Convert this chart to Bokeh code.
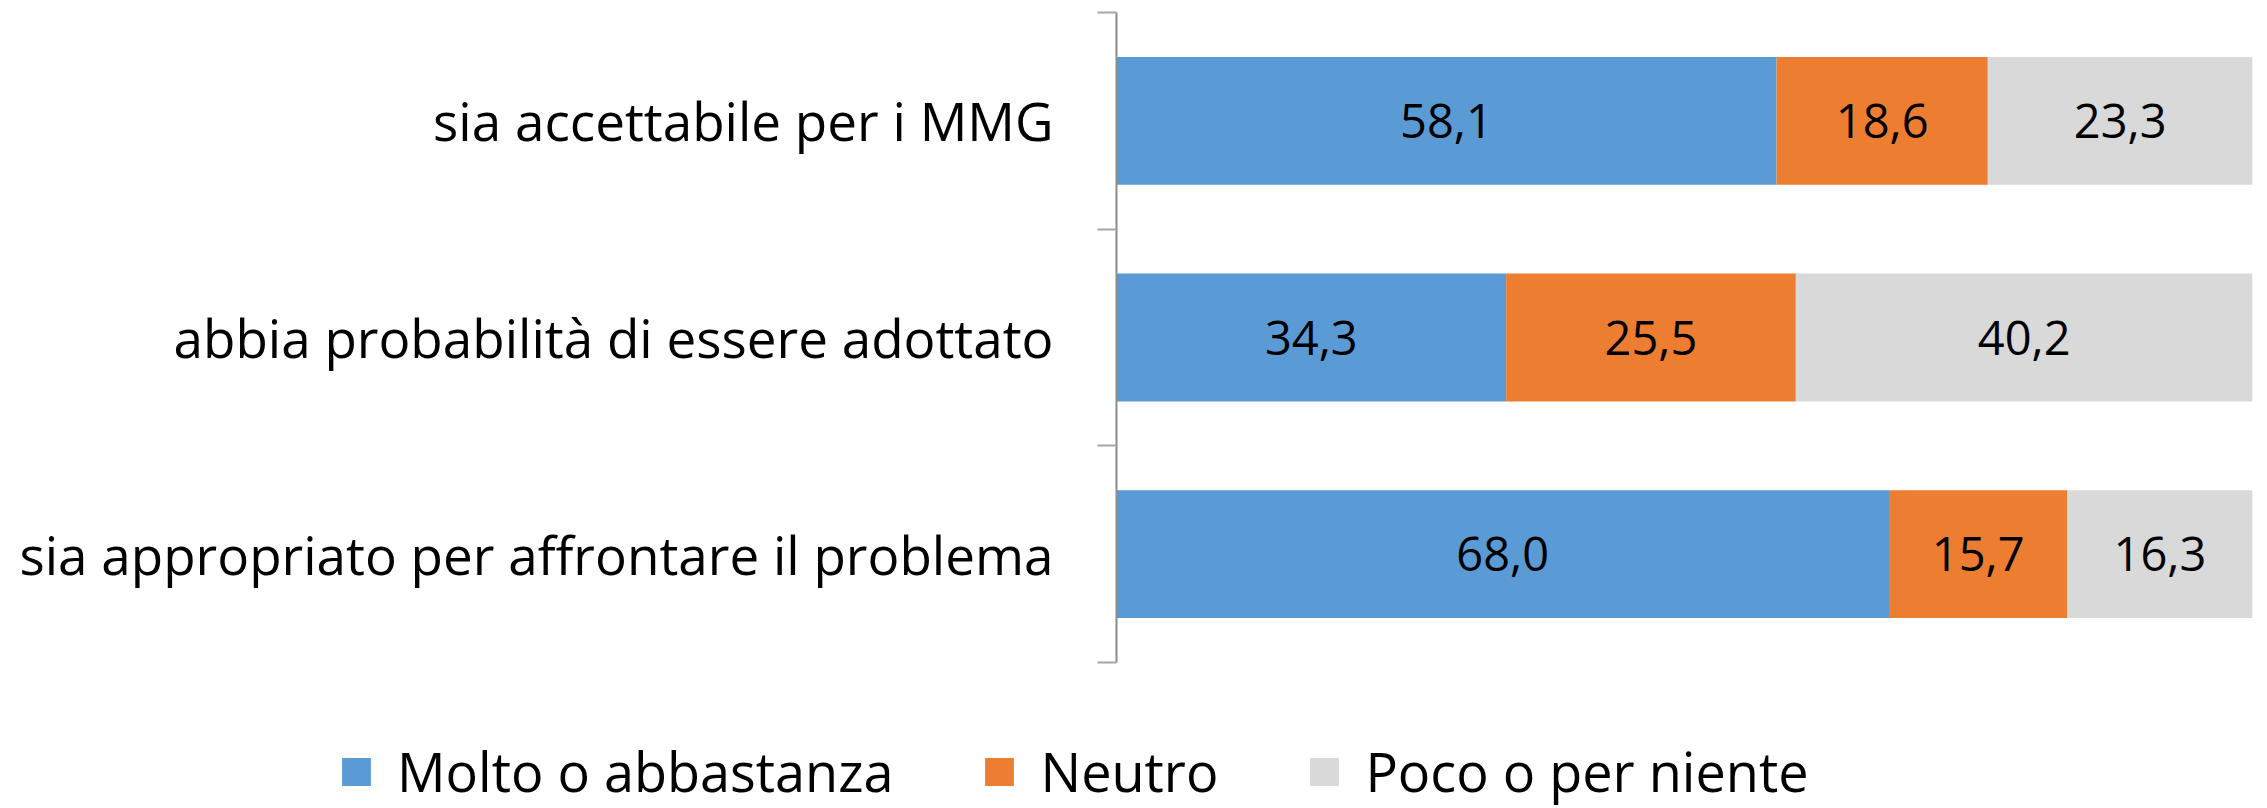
from bokeh.plotting import figure
from bokeh.layouts import column
from bokeh.models import (ColumnDataSource, Range1d, FixedTicker, Legend, LegendItem)
from bokeh.core.properties import value
from bokeh.embed import file_html
from bokeh.resources import INLINE
import numpy as np

# ---- data (bottom to top, as drawn) ----
categories = [
    "sia appropriato per affrontare il problema",
    "abbia probabilità di essere adottato",
    "sia accettabile per i MMG",
]
series_names = ["Molto o abbastanza", "Neutro", "Poco o per niente"]
molto = [68.0, 34.3, 58.1]
neutro = [15.7, 25.5, 18.6]
poco = [16.3, 40.2, 23.3]
colors = ["#5B9BD5", "#ED7D31", "#D9D9D9"]

FONT = "Open Sans"
W = 2260

ypos = [i + 0.5 for i in range(len(categories))]
keys = ["molto", "neutro", "poco"]
source = ColumnDataSource(dict(y=ypos, molto=molto, neutro=neutro, poco=poco))

p = figure(width=W, height=670, output_backend="svg", toolbar_location=None,
           x_range=Range1d(0, 100), y_range=Range1d(0, len(categories)),
           min_border_left=1116, min_border_right=W - 2252, min_border_top=12,
           min_border_bottom=8)
p.outline_line_color = None
p.grid.visible = False
p.xaxis.visible = False

p.hbar_stack(keys, y="y", height=0.59, color=colors, line_color=None, source=source)

# value labels
vals = np.array([molto, neutro, poco])
cum = np.cumsum(vals, axis=0)
starts = cum - vals
for k in range(vals.shape[0]):
    xs = list(starts[k] + vals[k] / 2.0)
    txt = [f"{v:.1f}".replace(".", ",") for v in vals[k]]
    p.text(x=xs, y=ypos, text=txt, text_align="center", text_baseline="middle",
           text_font=value(FONT), text_font_size="47px", text_color="#000000")

# y axis: labels at centres, ticks at category boundaries
yax = p.yaxis[0]
yax.ticker = FixedTicker(ticks=ypos, minor_ticks=list(range(len(categories) + 1)))
yax.major_label_overrides = {y: c for y, c in zip(ypos, categories)}
yax.major_label_text_font = FONT
yax.major_label_text_font_size = "53px"
yax.major_label_text_color = "#000000"
yax.major_tick_line_color = None
yax.major_tick_out = 0
yax.major_tick_in = 0
yax.minor_tick_out = 19
yax.minor_tick_in = 0
yax.minor_tick_line_color = "#A6A6A6"
yax.minor_tick_line_width = 2
yax.axis_line_color = "#8C8C8C"
yax.axis_line_width = 2
yax.major_label_standoff = 44

# ---- legend strip below the chart ----
LH = 138
pl = figure(width=W, height=LH, output_backend="svg", toolbar_location=None,
            x_range=Range1d(0, W), y_range=Range1d(0, LH),
            min_border=0, outline_line_color=None)
pl.frame_align = False
pl.axis.visible = False
pl.grid.visible = False
# legend swatches come from the same series, kept outside the visible range
leg_src = ColumnDataSource(dict(y=[-1000.0] * len(categories), molto=molto, neutro=neutro, poco=poco))
leg_renderers = pl.hbar_stack(keys, y="y", height=0.59, color=colors, line_color=None,
                              source=leg_src)
legend = Legend(items=[LegendItem(label=n, renderers=[r]) for n, r in zip(series_names, leg_renderers)],
                orientation="horizontal", location=(338, 0),
                glyph_width=36, glyph_height=35, label_standoff=23, spacing=88,
                padding=0, margin=0, border_line_color=None, background_fill_alpha=0,
                label_text_font=FONT, label_text_font_size="54px", label_text_color="#000000")
pl.add_layout(legend)

layout = column(p, pl, spacing=0)
open("out.html", "w").write(file_html(layout, INLINE))
